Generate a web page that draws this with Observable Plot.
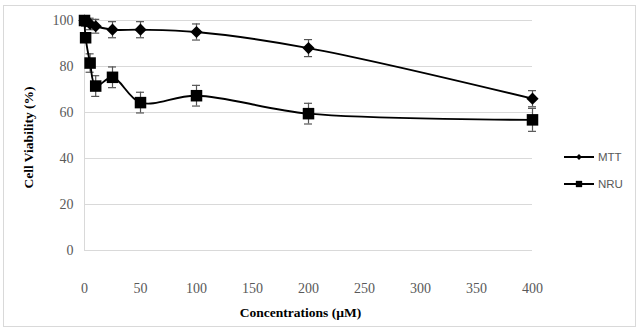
<!DOCTYPE html>
<html>
<head>
<meta charset="utf-8">
<script src="https://cdn.jsdelivr.net/npm/d3@7"></script>
<script src="https://cdn.jsdelivr.net/npm/@observablehq/plot@0.6"></script>
<style>
  html, body { margin: 0; padding: 0; background: #fff; }
  #wrap { position: relative; width: 641px; height: 331px; overflow: hidden; }
  #border { position: absolute; left: 3px; top: 5px; width: 633px; height: 322px; border: 1px solid #d9d9d9; box-sizing: border-box; pointer-events: none; }
  #legend { position: absolute; left: 563px; top: 143px; font-family: "Liberation Sans", Arial, sans-serif; font-size: 11.5px; color: #595959; }
  .item { display: flex; align-items: center; height: 27px; }
  .item svg { margin-right: 3px; }
  #chart { position: absolute; left: 0; top: 0; }
  #chart svg, #chart svg text { font-family: "Liberation Serif", "Times New Roman", serif !important; }
</style>
</head>
<body>
<div id="wrap">
  <div id="chart"></div>
  <div id="border"></div>
  <div id="legend"></div>
</div>
<script>
// Concentrations tested (µM) and viability results (% of control) with SD
const concentrations = [0, 1, 5, 10, 25, 50, 100, 200, 400];
const mtt   = [100, 99.5, 98.5, 97.5, 96, 96, 95, 88, 66];
const mttSd = [1.5, 2, 2.5, 3, 3.5, 3.5, 3.5, 3.7, 3.5];
const nru   = [100, 92.5, 81.5, 71.5, 75.3, 64.3, 67.3, 59.5, 56.8];
const nruSd = [1.5, 2, 4, 4.5, 4.5, 4.5, 4.5, 4.5, 5];
const yTicks = [0, 20, 40, 60, 80, 100];
const xTicks = [0, 50, 100, 150, 200, 250, 300, 350, 400];
const seriesNames = ["MTT", "NRU"];
const seriesSymbols = ["diamond2", "square"];
const seriesR = [5.5, 6.5];

const rows = [];
[mtt, nru].forEach((vals, s) => {
  const sds = s === 0 ? mttSd : nruSd;
  concentrations.forEach((c, i) => rows.push({series: seriesNames[s], c, v: vals[i], sd: sds[i]}));
});
const bySeries = name => rows.filter(d => d.series === name);
const capHalf = 3.6; // half-width of error-bar caps, in µM units

const serif = "'Liberation Serif', 'Times New Roman', serif";
const marks = [
  Plot.gridY(yTicks.filter(t => t > 0), {stroke: "#d9d9d9", strokeOpacity: 1}),
  Plot.ruleY([0], {stroke: "#d9d9d9"}),
  Plot.ruleX([0], {stroke: "#d9d9d9"}),
  Plot.axisY(yTicks, {tickSize: 0, tickPadding: 11, fontSize: 14, fill: "#595959", label: null}),
  Plot.axisX(xTicks, {tickSize: 0, tickPadding: 33, fontSize: 14, fill: "#595959", label: null})
];
seriesNames.forEach((name, s) => {
  const data = bySeries(name);
  marks.push(
    Plot.ruleX(data, {x: "c", y1: d => d.v - d.sd, y2: d => d.v + d.sd, stroke: "#555", strokeWidth: 1.2}),
    Plot.ruleY(data, {y: d => d.v + d.sd, x1: d => d.c - capHalf, x2: d => d.c + capHalf, stroke: "#555", strokeWidth: 1.2}),
    Plot.ruleY(data, {y: d => d.v - d.sd, x1: d => d.c - capHalf, x2: d => d.c + capHalf, stroke: "#555", strokeWidth: 1.2}),
    Plot.line(data, {x: "c", y: "v", curve: "catmull-rom", stroke: "#000", strokeWidth: 1.9}),
    Plot.dot(data, {x: "c", y: "v", symbol: seriesSymbols[s], r: seriesR[s], fill: "#000", stroke: "none"})
  );
});

const chart = Plot.plot({
  width: 641,
  height: 331,
  marginLeft: 84,
  marginRight: 109,
  marginTop: 20,
  marginBottom: 81,
  style: {fontFamily: serif, background: "transparent"},
  x: {domain: [0, 400]},
  y: {domain: [0, 100]},
  marks: [
    ...marks,
    Plot.text(["Concentrations (µM)"], {frameAnchor: "bottom", dy: 62, dx: -8, fontSize: 13.5, fontWeight: "bold", fill: "#000", lineAnchor: "middle"}),
    Plot.text(["Cell Viability (%)"], {frameAnchor: "left", textAnchor: "middle", dx: -56, dy: 2, rotate: -90, fontSize: 13.5, fontWeight: "bold", fill: "#000"})
  ]
});
document.getElementById("chart").append(chart);

// Legend: line segment with the series marker, then the series name
const legend = d3.select("#legend");
seriesNames.forEach((name, s) => {
  const item = legend.append("div").attr("class", "item");
  const svg = item.append("svg").attr("width", 32).attr("height", 14);
  svg.append("line").attr("x1", 1).attr("x2", 31).attr("y1", 7).attr("y2", 7).attr("stroke", "#000").attr("stroke-width", 2);
  const sym = s === 0 ? d3.symbolDiamond2 : d3.symbolSquare;
  const size = s === 0 ? 22 : 40;
  svg.append("path").attr("d", d3.symbol(sym, size)()).attr("transform", "translate(16,7)").attr("fill", "#000");
  item.append("span").text(name);
});
</script>
</body>
</html>
